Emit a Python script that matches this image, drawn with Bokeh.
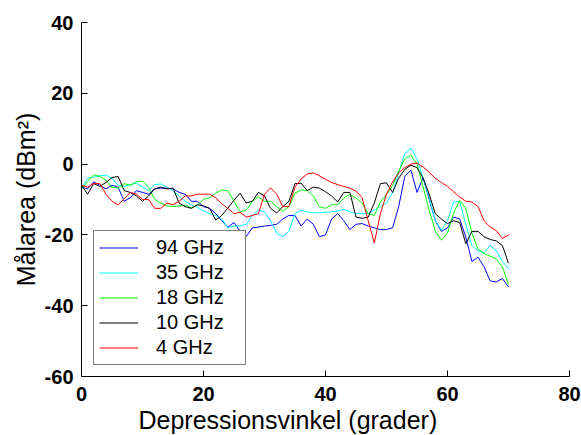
from bokeh.plotting import figure
from bokeh.models import FixedTicker, Title, Range1d
from bokeh.embed import file_html
from bokeh.resources import INLINE

angles = list(range(0, 71))

ghz94 = [-6.5, -7, -5, -6, -7, -6, -6.5, -10.5, -9.5, -7.5,
         -8, -8.5, -7, -6.8, -6.8, -7, -8, -8.5, -10.5, -10.5,
         -12, -12.5, -14, -16, -17.8, -16.5, -19, -20.5, -18, -17.8,
         -17.5, -17.3, -17, -15.5, -14.5, -14.5, -17.5, -15.5, -17, -20.5,
         -20, -15.5, -14, -16, -18.5, -17, -16.8, -17.5, -18, -18.5,
         -18.5, -18, -12, -3.5, -1.7, -8, -3.8, -10, -16, -19,
         -18, -15, -15.5, -20.6, -27.5, -26.3, -29, -33, -33.3, -32.3,
         -34.7]

ghz35 = [-6.8, -4, -3.7, -3.3, -3.1, -4, -6, -6.3, -5.8, -5.4,
         -6.5, -7.5, -5.8, -5.6, -6.5, -7.5, -9, -10.5, -11.5, -12.2,
         -13.2, -14, -14.5, -15.5, -18, -17.5, -17.5, -17, -14.5, -13,
         -13.5, -16, -19.5, -20.5, -19, -14, -13, -13.5, -13.8, -13.7,
         -13.6, -13.5, -13.2, -12.8, -13.5, -14, -14, -14, -13, -12,
         -11, -8, -2.5, 3, 4.5, 1.5, -4, -9.5, -16, -18.6,
         -16, -10.7, -10.5, -17, -23, -24.5, -25, -23, -24.5, -27.5,
         -29.5]

ghz18 = [-7, -5, -3, -3.5, -4.5, -6.5, -6.8, -5.5, -6, -5,
         -4.8, -6.5, -10, -11, -11.8, -12, -11.8, -11.6, -12.4, -11.5,
         -10, -9.5, -8.2, -7.3, -7.5, -10.5, -13.5, -13, -10.5, -9.3,
         -10.5, -10.5, -12, -13.3, -12, -8.2, -7.3, -7.5, -9, -12,
         -12.5, -11.5, -11.5, -9.6, -8.5, -9.6, -11, -14, -14.5, -10.7,
         -8.5, -6, -2, 1.5, 2.5, 0, -6.5, -13, -19, -21.5,
         -19.5, -13.8, -10.3, -12.5, -19.5, -24, -25.3, -26, -26.8, -29,
         -34]

ghz10 = [-6, -8.5, -5.5, -6.3, -5.2, -3.8, -3.5, -7.5, -8, -9,
         -10.5, -9, -7, -6.5, -7, -6.8, -11, -12, -12.5, -11.5,
         -11.8, -12.5, -15.8, -14.5, -12.4, -10.2, -8.2, -11, -10.5, -8,
         -9, -12.5, -13.8, -12, -10.5, -5.5, -5.4, -7.5, -6.5, -6.8,
         -7.8, -9, -10.7, -8, -8, -15, -15.3, -15, -11, -5.5,
         -5.3, -8, -4, -1.5, -0.3, -1, -4, -8.5, -14, -15.5,
         -16.8, -16, -16.5, -22.5, -19, -19, -20.5, -21.3, -21.7, -23,
         -28]

ghz4 = [-6, -6.5, -5.5, -5.5, -8.5, -10.5, -11.5, -9.8, -8, -8.5,
        -10, -10, -12.5, -12.5, -11, -11.5, -10.5, -9, -9, -8.5,
        -8.5, -8.5, -9.5, -11.2, -12.5, -14, -13.6, -15, -14.5, -14,
        -8.5, -6.7, -8.5, -12, -12, -6.5, -4.2, -2.8, -2.5, -3.3,
        -4.3, -5.2, -5.8, -6.3, -6.8, -7.6, -9.5, -16, -22.3, -14,
        -8.5, -5, -2.5, -1, 0, 0.3, -0.8, -2.3, -4, -5.2,
        -6.3, -7.8, -9.3, -10.5, -10.7, -12, -16, -17.8, -18.8, -21,
        -20]

series = [
    ("94 GHz", ghz94, "#0000FF"),
    ("35 GHz", ghz35, "#00FFFF"),
    ("18 GHz", ghz18, "#00FF00"),
    ("10 GHz", ghz10, "#000000"),
    ("4 GHz", ghz4, "#FF0000"),
]

x_ticks = [0, 20, 40, 60, 80]
x_tick_labels = ["0", "20", "40", "60", "80"]
y_ticks = [-60, -40, -20, 0, 20, 40]
y_tick_labels = ["-60", "-40", "-20", "0", "20", "40"]

FONT = "Liberation Sans"

p = figure(width=581, height=435, output_backend="svg", toolbar_location=None,
           x_range=Range1d(0, 80), y_range=Range1d(-60, 40),
           min_border_left=81, min_border_right=12, min_border_top=22, min_border_bottom=59)
p.outline_line_color = None
p.xgrid.visible = False
p.ygrid.visible = False
p.background_fill_color = "white"
p.border_fill_color = "white"

for name, vals, col in series:
    p.line(angles, vals, line_color=col, line_width=1, legend_label=name)

for ax in (p.xaxis[0], p.yaxis[0]):
    ax.major_tick_in = 6
    ax.major_tick_out = 0
    ax.minor_tick_line_color = None
    ax.axis_line_color = "black"
    ax.major_tick_line_color = "black"
    ax.major_label_text_font = FONT
    ax.major_label_text_font_size = "20px"
    ax.major_label_text_font_style = "bold"
    ax.major_label_text_color = "black"

p.xaxis[0].ticker = FixedTicker(ticks=x_ticks)
p.xaxis[0].major_label_overrides = {t: l for t, l in zip(x_ticks, x_tick_labels)}
p.xaxis[0].major_label_standoff = 10
p.yaxis[0].ticker = FixedTicker(ticks=y_ticks)
p.yaxis[0].major_label_overrides = {t: l for t, l in zip(y_ticks, y_tick_labels)}
p.yaxis[0].major_label_standoff = 8

p.yaxis[0].axis_label = "Målarea (dBm²)"
p.yaxis[0].axis_label_text_font = FONT
p.yaxis[0].axis_label_text_font_size = "25px"
p.yaxis[0].axis_label_text_font_style = "normal"
p.yaxis[0].axis_label_text_color = "black"
p.yaxis[0].axis_label_standoff = 2

xt = Title(text="Depressionsvinkel (grader)", align="left", offset=57,
           text_font=FONT, text_font_size="25px", text_font_style="normal",
           text_color="black", standoff=0)
p.add_layout(xt, "below")

lg = p.legend[0]
lg.location = (12, 11)
lg.border_line_color = "black"
lg.border_line_width = 1
lg.background_fill_color = "white"
lg.background_fill_alpha = 1
lg.label_text_font = FONT
lg.label_text_font_size = "20px"
lg.label_text_color = "black"
lg.glyph_width = 39
lg.glyph_height = 21
lg.label_height = 21
lg.label_width = 84
lg.label_standoff = 18
lg.spacing = 2
lg.padding = 5
lg.margin = 0

open("out.html", "w").write(file_html(p, INLINE))
